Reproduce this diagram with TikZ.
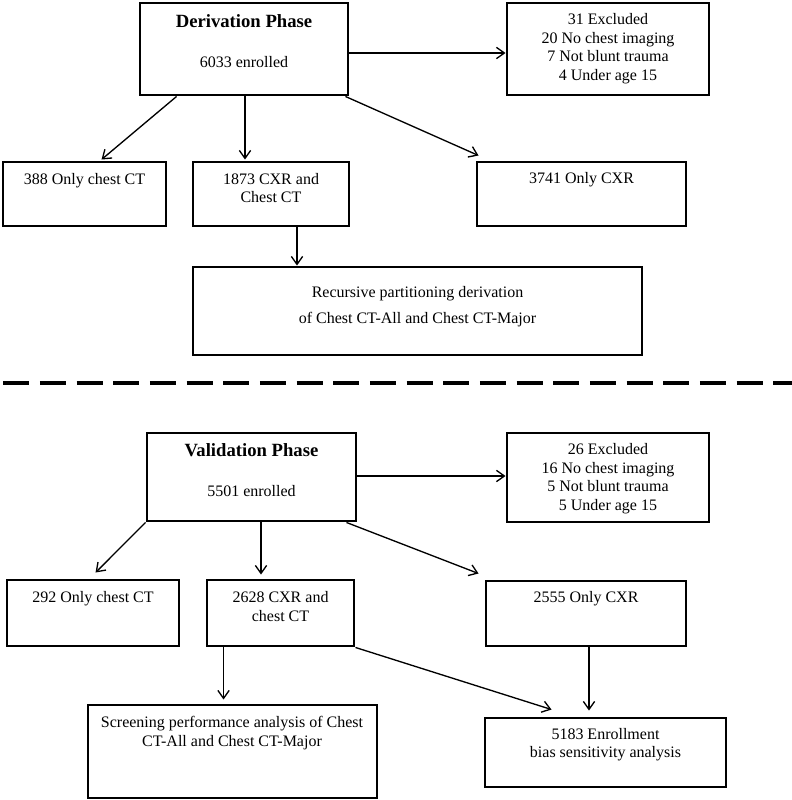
\documentclass[tikz,border=0pt]{standalone}
\usepackage{fontspec}
\setmainfont{Liberation Serif}
\usetikzlibrary{arrows.meta,calc}
\begin{document}
\begin{tikzpicture}[x=0.75pt,y=-0.75pt,
  box/.style={draw=black, line width=2.2pt, inner sep=0pt, fill=none},
  txt/.style={font=\fontsize{12}{14}\selectfont, inner sep=0pt, align=center},
  ttl/.style={font=\fontsize{14}{16}\selectfont\bfseries, inner sep=0pt},
  arr/.style={line width=1pt, -{Straight Barb[length=6pt,width=8.5pt,line width=1pt]}},
  sep/.style={line width=2.5pt, dash pattern=on 19.5pt off 8pt}]
\useasboundingbox (0,0) rectangle (792,800);

% Derivation phase boxes
\node[box, minimum width=156pt, minimum height=69pt] (der) at (244,49) {};
\node[box, minimum width=151.5pt, minimum height=69pt] (exc1) at (608,49) {};
\node[box, minimum width=122.25pt, minimum height=48pt] (only1) at (84.5,194) {};
\node[box, minimum width=117pt, minimum height=48pt] (both1) at (271,194) {};
\node[box, minimum width=156.75pt, minimum height=48pt] (cxr1) at (581.5,194) {};
\node[box, minimum width=336.75pt, minimum height=66pt] (rec) at (417.5,311) {};

% Validation phase boxes
\node[box, minimum width=156.75pt, minimum height=66pt] (val) at (251.5,477) {};
\node[box, minimum width=151.5pt, minimum height=66.75pt] (exc2) at (608,477.5) {};
\node[box, minimum width=129pt, minimum height=49.5pt] (only2) at (93,613) {};
\node[box, minimum width=110.25pt, minimum height=49.5pt] (both2) at (280.5,613) {};
\node[box, minimum width=150pt, minimum height=48.75pt] (cxr2) at (586,613.5) {};
\node[box, minimum width=216.75pt, minimum height=69.75pt] (scr) at (232.5,751.5) {};
\node[box, minimum width=180.75pt, minimum height=51.75pt] (bias) at (605.5,752.5) {};

% Texts
\node[ttl, anchor=base] (tder) at (244,27) {Derivation Phase};
\node[txt, anchor=base] (nder) at (244,67) {6033 enrolled};
\node[txt, anchor=north] (texc1) at (608,13.1) {31 Excluded\\20 No chest imaging\\7 Not blunt trauma\\4 Under age 15};
\node[txt, anchor=base] (tonly1) at (84.5,184) {388 Only chest CT};
\node[txt, anchor=north] (tboth1) at (271,172.8) {1873 CXR and\\Chest CT};
\node[txt, anchor=base] (tcxr1) at (581.5,183.3) {3741 Only CXR};
\node[txt, anchor=north, font=\fontsize{12}{19.5}\selectfont] (trec) at (417.5,286.4) {Recursive partitioning derivation\\of Chest CT-All and Chest CT-Major};

\node[ttl, anchor=base] (tval) at (251.5,456.7) {Validation Phase};
\node[txt, anchor=base] (nval) at (251.5,496.7) {5501 enrolled};
\node[txt, anchor=north] (texc2) at (608,443.1) {26 Excluded\\16 No chest imaging\\5 Not blunt trauma\\5 Under age 15};
\node[txt, anchor=base] (tonly2) at (93,602.3) {292 Only chest CT};
\node[txt, anchor=north] (tboth2) at (280.5,591.4) {2628 CXR and\\chest CT};
\node[txt, anchor=base] (tcxr2) at (586,602.3) {2555 Only CXR};
\node[txt, anchor=north] (tscr) at (232,715.8) {Screening performance analysis of Chest\\CT-All and Chest CT-Major};
\node[txt, anchor=north] (tbias) at (605.5,727.8) {5183 Enrollment\\bias sensitivity analysis};

% Derivation arrows
\coordinate (a1) at ($(der.south west)+(38,0)$);
\draw[arr] (a1) -- ($(only1.north west)+(100,-1)$);
\coordinate (a2) at ($(der.south)+(1,0)$);
\draw[arr] (a2) -- ($(a2 |- both1.north)+(0,-1)$);
\coordinate (a3) at ($(der.east)+(0,4)$);
\draw[arr] (a3) -- (a3 -| exc1.west);
\draw[arr] ($(der.south east)+(-4,0)$) -- ($(cxr1.north west)+(3,-5)$);
\coordinate (a5) at ($(both1.south)+(26,0)$);
\draw[arr] (a5) -- (a5 |- rec.north);

% Separator
\coordinate (dl) at (3.3,383);
\coordinate (dr) at (792,383);
\draw[sep] (dl) -- (dr);

% Validation arrows
\draw[arr] (val.south west) -- ($(only2.north west)+(90,-6)$);
\coordinate (b2) at ($(val.south)+(9.5,0)$);
\draw[arr] (b2) -- ($(b2 |- both2.north)+(0,-4)$);
\coordinate (b3) at ($(val.east)+(0,-1)$);
\draw[arr] (b3) -- (b3 -| exc2.west);
\draw[arr] ($(val.south east)+(-11,0)$) -- ($(cxr2.north west)+(-6,-6)$);
\coordinate (c1) at ($(both2.south west)+(18,0)$);
\draw[arr] (c1) -- ($(c1 |- scr.north)+(0,-4)$);
\draw[arr] (both2.south east) -- ($(bias.north west)+(68,-7)$);
\coordinate (c3) at ($(cxr2.south)+(3,0)$);
\draw[arr] (c3) -- ($(c3 |- bias.north)+(0,-6)$);
\end{tikzpicture}
\end{document}
